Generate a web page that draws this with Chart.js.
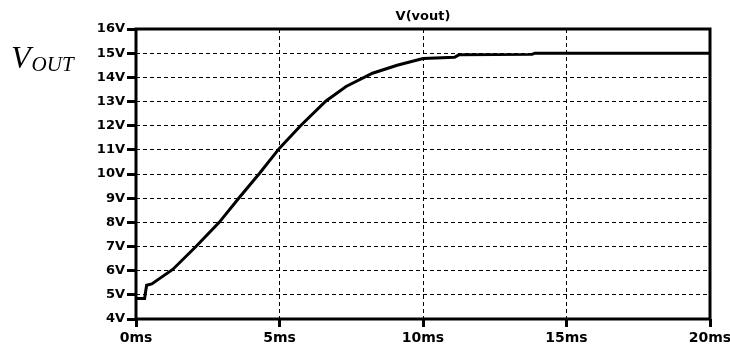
<!DOCTYPE html>
<html>
<head>
<meta charset="utf-8">
<script src="https://cdn.jsdelivr.net/npm/chart.js@4"></script>
<style>
  body { margin: 0; background: #fff; }
  #wrap { width: 730px; height: 347px; }
</style>
</head>
<body>
<div id="wrap"><canvas id="voutChart"></canvas></div>
<script>
// time in ms, voltage in V
const timeMs = [0, 0.3, 0.33, 0.37, 0.55, 1.28, 2.09, 2.9, 3.6, 4.3, 5.0, 5.75, 6.62, 7.32, 8.24, 9.1, 10.0, 11.1, 11.25, 13.8, 13.9, 20];
const vout =   [4.85, 4.85, 5.1, 5.4, 5.45, 6.05, 7.0, 8.0, 9.03, 10.02, 11.07, 12.02, 13.02, 13.62, 14.17, 14.5, 14.78, 14.83, 14.93, 14.95, 15.0, 15.0];

const xTicks = [0, 5, 10, 15, 20];
const yTicks = [4, 5, 6, 7, 8, 9, 10, 11, 12, 13, 14, 15, 16];

const traceName = 'V(vout)';

// frame round the plot, trace name centred over it, V_OUT label on the left
const framePlugin = {
    id: 'frame',
    afterDraw(chart) {
        const ctx = chart.ctx;
        const a = chart.chartArea;
        ctx.save();
        ctx.strokeStyle = '#000';
        ctx.lineWidth = 3;
        ctx.strokeRect(a.left, a.top, a.right - a.left, a.bottom - a.top);

        ctx.fillStyle = '#000';
        ctx.textAlign = 'center';
        ctx.textBaseline = 'middle';
        ctx.font = 'bold 13px "DejaVu Sans"';
        ctx.fillText(traceName, (a.left + a.right) / 2, 17);

        ctx.textAlign = 'left';
        ctx.textBaseline = 'alphabetic';
        ctx.font = 'italic 32px "Liberation Serif"';
        ctx.fillText('V', 11, 68);
        const w = ctx.measureText('V').width;
        ctx.font = 'italic 21px "Liberation Serif"';
        ctx.fillText('OUT', 11 + w + 1, 71);
        ctx.restore();
    }
};

const voutData = {
    datasets: [{
        label: traceName,
        data: timeMs.map((t, i) => ({ x: t, y: vout[i] })),
        borderColor: '#000',
        borderWidth: 3,
        pointRadius: 0,
        tension: 0,
        fill: false,
    }]
};

const voutConfig = {
    type: 'line',
    data: voutData,
    options: {
        responsive: true,
        maintainAspectRatio: false,
        animation: false,
        layout: {
            padding: { left: 0, right: 20, top: 29, bottom: 0 }
        },
        scales: {
            x: {
                type: 'linear',
                min: 0,
                max: 20,
                afterBuildTicks: (scale) => { scale.ticks = xTicks.map(v => ({ value: v })); },
                afterFit: (scale) => {
                    scale.height = 28;
                    scale.paddingLeft = 0;
                    scale.paddingRight = 0;
                },
                ticks: {
                    color: '#000',
                    font: { family: 'DejaVu Sans', weight: 'bold', size: 14 },
                    padding: 3,
                    maxRotation: 0,
                    callback: (v) => v + 'ms',
                },
                grid: {
                    color: '#000',
                    lineWidth: 1,
                    tickLength: 8,
                    tickWidth: 3,
                    tickColor: '#000',
                },
                border: { display: false, dash: [4, 3] }
            },
            y: {
                min: 4,
                max: 16,
                afterBuildTicks: (scale) => { scale.ticks = yTicks.map(v => ({ value: v })); },
                afterFit: (scale) => { scale.width = 136; },
                ticks: {
                    color: '#000',
                    font: { family: 'DejaVu Sans', weight: 'bold', size: 13 },
                    padding: 2,
                    callback: (v) => v + 'V',
                },
                grid: {
                    color: '#000',
                    lineWidth: 1,
                    tickLength: 9,
                    tickWidth: 3,
                    tickColor: '#000',
                },
                border: { display: false, dash: [4, 3] }
            }
        },
        plugins: {
            legend: {
                display: false,
            },
            tooltip: { enabled: false },
            title: { display: false }
        }
    },
    plugins: [framePlugin]
};

const voutCtx = document.getElementById('voutChart').getContext('2d');
new Chart(voutCtx, voutConfig);
</script>
</body>
</html>
